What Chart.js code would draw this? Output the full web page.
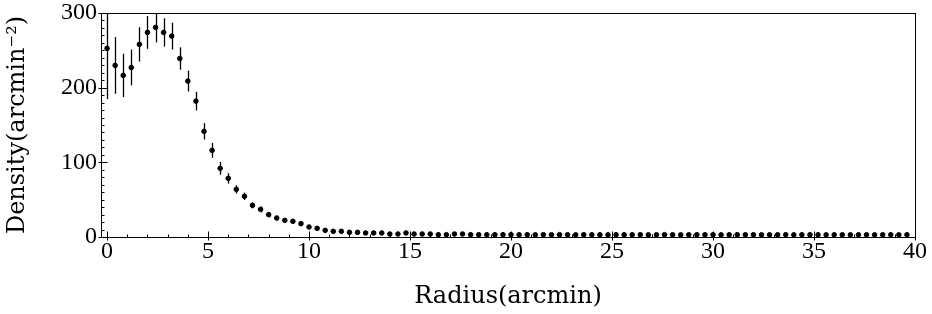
<!DOCTYPE html>
<html>
<head>
<meta charset="utf-8">
<script src="https://cdn.jsdelivr.net/npm/chart.js@4.4.1/dist/chart.umd.min.js"></script>
<style>
  body { margin: 0; background: #fff; }
</style>
</head>
<body>
<canvas id="myChart" width="932" height="314"></canvas>
<script>
// radius of each bin (arcmin)
var radius = [
  0.0, 0.4, 0.8, 1.2, 1.6, 2.0, 2.4, 2.8, 3.2, 3.6,
  4.0, 4.4, 4.8, 5.2, 5.6, 6.0, 6.4, 6.8, 7.2, 7.6,
  8.0, 8.4, 8.8, 9.2, 9.6, 10.0, 10.4, 10.8, 11.2, 11.6,
  12.0, 12.4, 12.8, 13.2, 13.6, 14.0, 14.4, 14.8, 15.2, 15.6,
  16.0, 16.4, 16.8, 17.2, 17.6, 18.0, 18.4, 18.8, 19.2, 19.6,
  20.0, 20.4, 20.8, 21.2, 21.6, 22.0, 22.4, 22.8, 23.2, 23.6,
  24.0, 24.4, 24.8, 25.2, 25.6, 26.0, 26.4, 26.8, 27.2, 27.6,
  28.0, 28.4, 28.8, 29.2, 29.6, 30.0, 30.4, 30.8, 31.2, 31.6,
  32.0, 32.4, 32.8, 33.2, 33.6, 34.0, 34.4, 34.8, 35.2, 35.6,
  36.0, 36.4, 36.8, 37.2, 37.6, 38.0, 38.4, 38.8, 39.2, 39.6
];

// surface density (arcmin^-2)
var density = [
  252.6, 229.8, 216.4, 227.0, 258.0, 274.0, 280.7, 274.0, 269.0, 239.0,
  208.8, 182.0, 141.5, 116.0, 92.0, 78.6, 63.8, 54.5, 42.4, 37.0,
  29.9, 25.4, 22.3, 21.0, 17.9, 13.4, 11.6, 8.9, 7.6, 7.6,
  6.2, 6.2, 5.4, 5.4, 5.4, 4.0, 4.0, 5.4, 4.0, 4.0,
  4.0, 3.1, 3.1, 4.0, 4.0, 3.1, 3.1, 3.1, 3.1, 3.1,
  3.1, 3.0, 3.1, 2.9, 3.1, 3.0, 3.1, 3.0, 2.9, 3.1,
  3.0, 3.0, 2.9, 3.1, 3.0, 3.0, 3.1, 2.9, 3.0, 3.1,
  3.0, 2.9, 3.0, 3.1, 3.0, 3.0, 2.9, 3.0, 3.1, 3.0,
  3.0, 2.9, 3.0, 3.0, 3.1, 2.9, 3.0, 3.0, 3.0, 2.9,
  3.0, 3.0, 2.9, 3.0, 3.0, 2.9, 3.0, 3.0, 2.9, 3.0
];

// 1-sigma error of each bin
var errors = [
  68, 38, 29, 24, 23, 22, 20, 19, 18, 15,
  14, 12.5, 11, 10, 8.5, 7, 5.6, 5, 4, 4,
  3.5, 3, 2.8, 2.6, 2.4, 2.2, 2, 1.8, 1.7, 1.6,
  1.5, 1.4, 1.3, 1.3, 1.2, 1.2, 1.1, 1.1, 1.0, 1.0,
  1.0, 1.0, 0.9, 0.9, 0.9, 0.9, 0.9, 0.8, 0.8, 0.8,
  0.8, 0.8, 0.8, 0.7, 0.7, 0.7, 0.7, 0.7, 0.7, 0.7,
  0.7, 0.7, 0.6, 0.6, 0.6, 0.6, 0.6, 0.6, 0.6, 0.6,
  0.6, 0.6, 0.6, 0.6, 0.5, 0.5, 0.5, 0.5, 0.5, 0.5,
  0.5, 0.5, 0.5, 0.5, 0.5, 0.5, 0.5, 0.5, 0.5, 0.5,
  0.5, 0.5, 0.5, 0.5, 0.5, 0.5, 0.5, 0.5, 0.5, 0.5
];

var xTicks = [0, 5, 10, 15, 20, 25, 30, 35, 40];
var yTicks = [0, 100, 200, 300];

var tickFont = '"Liberation Serif", serif';
var titleFont = '"DejaVu Serif", serif';

var points = radius.map(function (r, i) { return { x: r, y: density[i] }; });

// vertical error bars, drawn with the chart's own scales
var errorBars = {
  id: 'errorBars',
  afterDatasetsDraw: function (chart) {
    var ctx = chart.ctx, area = chart.chartArea;
    var xs = chart.scales.x, ys = chart.scales.y;
    ctx.save();
    ctx.beginPath();
    ctx.rect(area.left, area.top, area.right - area.left, area.bottom - area.top);
    ctx.clip();
    ctx.strokeStyle = '#000';
    ctx.lineWidth = 1.3;
    radius.forEach(function (r, i) {
      var px = Math.round(xs.getPixelForValue(r)) + 0.5;
      ctx.beginPath();
      ctx.moveTo(px, ys.getPixelForValue(density[i] - errors[i]));
      ctx.lineTo(px, ys.getPixelForValue(density[i] + errors[i]));
      ctx.stroke();
    });
    ctx.restore();
  }
};

// frame box + inward ticks (major and minor)
var frameTicks = {
  id: 'frameTicks',
  afterDraw: function (chart) {
    var ctx = chart.ctx, a = chart.chartArea;
    var xs = chart.scales.x, ys = chart.scales.y;
    ctx.save();
    ctx.strokeStyle = '#000';
    ctx.lineWidth = 1;
    ctx.strokeRect(Math.round(a.left) + 0.5, Math.round(a.top) + 0.5,
                   Math.round(a.right - a.left), Math.round(a.bottom - a.top));
    ctx.beginPath();
    var b = Math.round(a.bottom) + 0.5, l = Math.round(a.left) + 0.5;
    for (var v = 0; v <= 40; v += 1) {
      var px = Math.round(xs.getPixelForValue(v)) + 0.5;
      var major = v % 5 === 0;
      ctx.moveTo(px, b + (major ? 3 : 0));
      ctx.lineTo(px, b - (major ? 6 : 3));
    }
    for (var w = 0; w <= 300; w += 10) {
      var py = Math.round(ys.getPixelForValue(w)) + 0.5;
      var majorY = w % 100 === 0;
      ctx.moveTo(l - (majorY ? 3 : 0), py);
      ctx.lineTo(l + (majorY ? 6 : 3), py);
    }
    ctx.stroke();
    ctx.restore();
  }
};

var element = document.getElementById('myChart').getContext('2d');

var chart = new Chart(element, {
  type: 'scatter',
  data: {
    datasets: [{
      label: 'Density',
      data: points,
      backgroundColor: '#000',
      borderColor: '#000',
      pointRadius: 2.3,
      pointHoverRadius: 2.3,
      showLine: false
    }]
  },
  options: {
    responsive: false,
    animation: false,
    devicePixelRatio: 1,
    layout: { padding: { top: 13, right: 17, left: 0, bottom: 0 } },
    plugins: { legend: { display: false }, tooltip: { enabled: false } },
    scales: {
      x: {
        type: 'linear',
        min: -0.3,
        max: 40,
        afterBuildTicks: function (s) { s.ticks = xTicks.map(function (v) { return { value: v }; }); },
        afterFit: function (s) { s.height = 77; s.paddingLeft = 0; s.paddingRight = 0; },
        grid: { display: false, drawTicks: false },
        border: { display: false },
        ticks: { color: '#000', font: { family: tickFont, size: 24 }, padding: 0, maxRotation: 0 },
        title: { display: true, text: 'Radius(arcmin)', color: '#000',
                 font: { family: titleFont, size: 24 }, padding: { top: 0, bottom: 3 } }
      },
      y: {
        min: 0,
        max: 300,
        afterBuildTicks: function (s) { s.ticks = yTicks.map(function (v) { return { value: v }; }); },
        afterFit: function (s) { s.width = 101; s.paddingTop = 0; s.paddingBottom = 0; },
        grid: { display: false, drawTicks: false },
        border: { display: false },
        ticks: { color: '#000', font: { family: tickFont, size: 24 }, padding: 4 },
        title: { display: true, text: 'Density(arcmin\u207B\u00B2)', color: '#000',
                 font: { family: titleFont, size: 24 }, padding: { top: 3, bottom: 0 } }
      }
    }
  },
  plugins: [errorBars, frameTicks]
});
</script>
</body>
</html>
